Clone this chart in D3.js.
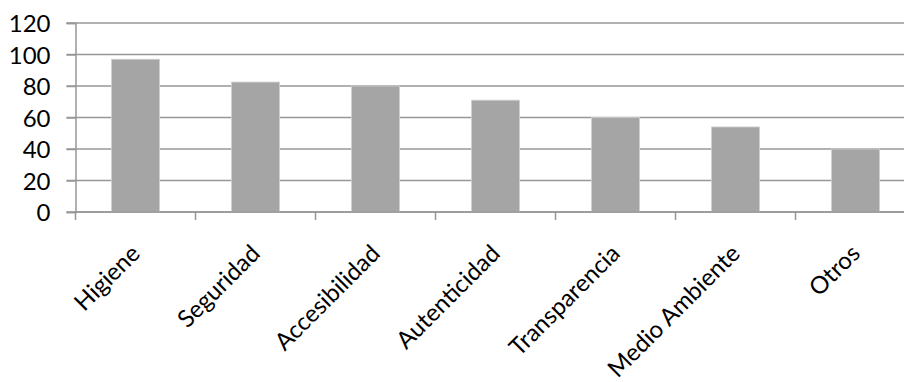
<!DOCTYPE html>
<html>
<head>
<meta charset="utf-8">
<script src="https://cdn.jsdelivr.net/npm/d3@7"></script>
<style>
  html, body { margin: 0; padding: 0; background: #ffffff; }
  svg { display: block; }
  text { font-family: Lato, "Open Sans", sans-serif; fill: #000; }
</style>
</head>
<body>
<svg id="chart" width="904" height="382"></svg>
<script>
// Categories and their values
const categories = ["Higiene", "Seguridad", "Accesibilidad", "Autenticidad", "Transparencia", "Medio Ambiente", "Otros"];
const values = [97, 82.5, 80, 71, 60, 54, 40];
const yTicks = [0, 20, 40, 60, 80, 100, 120];

const svg = d3.select("#chart");
const plotLeft = 75.5, plotRight = 915.5, plotTop = 23, plotBottom = 212;

const x = d3.scaleBand().domain(categories).range([plotLeft, plotRight]).paddingInner(0.6).paddingOuter(0.3);
const y = d3.scaleLinear().domain([0, 120]).range([plotBottom, plotTop]);

// horizontal gridlines
svg.append("g").selectAll("line").data(yTicks).join("line")
  .attr("x1", plotLeft - 9).attr("x2", 904)
  .attr("y1", d => y(d)).attr("y2", d => y(d))
  .attr("stroke", "#979797").attr("stroke-width", 1.5);

// bars
svg.append("g").selectAll("rect").data(categories).join("rect")
  .attr("x", d => x(d))
  .attr("width", x.bandwidth())
  .attr("y", (d, i) => y(values[i]))
  .attr("height", (d, i) => y(0) - y(values[i]))
  .attr("fill", "#a5a5a5")
  .attr("stroke", "#d0d0d0").attr("stroke-width", 0.8);

// y axis
const yAxis = d3.axisLeft(y).tickValues(yTicks).tickSize(9).tickPadding(16);
const gy = svg.append("g").attr("transform", `translate(${plotLeft},0)`).call(yAxis);
gy.select(".domain").attr("stroke", "#979797").attr("stroke-width", 1.5);
gy.selectAll(".tick line").attr("stroke", "#979797").attr("stroke-width", 1.5);
gy.selectAll("text").style("font-size", "24px").style("font-family", "Lato, sans-serif")
  .attr("dy", "0.36em").attr("x", -25);

// x axis line and category boundary ticks
const step = x.step();
const boundaries = d3.range(categories.length + 1).map(i => plotLeft + i * step);
svg.append("line").attr("x1", plotLeft).attr("x2", 904).attr("y1", plotBottom).attr("y2", plotBottom)
  .attr("stroke", "#979797").attr("stroke-width", 1.5);
svg.append("g").selectAll("line").data(boundaries).join("line")
  .attr("x1", d => d).attr("x2", d => d)
  .attr("y1", plotBottom).attr("y2", plotBottom + 8)
  .attr("stroke", "#979797").attr("stroke-width", 1.5);

// rotated category labels
svg.append("g").selectAll("text").data(categories).join("text")
  .attr("transform", d => `translate(${x(d) + x.bandwidth() / 2 + 6},${plotBottom + 43}) rotate(-45)`)
  .attr("text-anchor", "end")
  .style("font-size", "24px")
  .text(d => d);
</script>
</body>
</html>
